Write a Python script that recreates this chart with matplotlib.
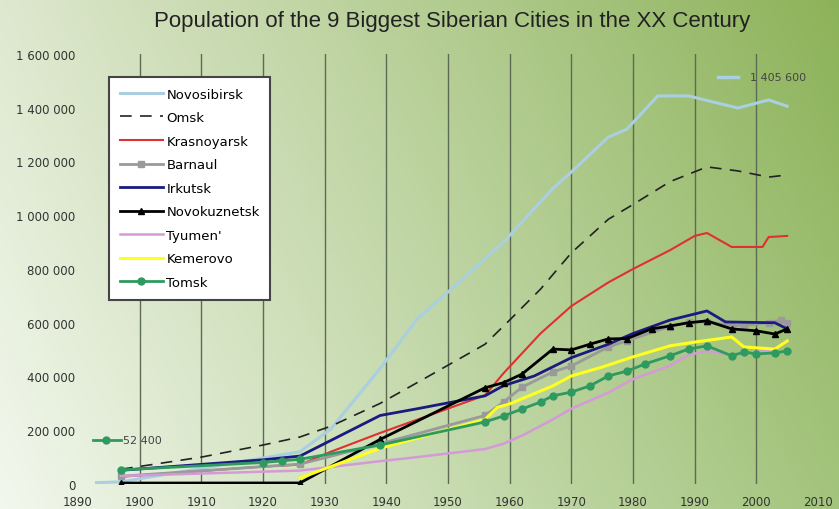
import matplotlib
matplotlib.use('Agg')
import matplotlib.pyplot as plt
import numpy as np
from matplotlib.ticker import FuncFormatter

plt.rcParams['font.family'] = ['Liberation Sans', 'DejaVu Sans']

# data
novosibirsk_years = [1893, 1897, 1926, 1931, 1939, 1945, 1950, 1959, 1967, 1970, 1976, 1979, 1984, 1989, 1997, 2002, 2005]
novosibirsk = [5000, 8000, 120000, 205000, 430000, 614000, 714000, 900000, 1100000, 1161000, 1291000, 1320000,
               1444000, 1444000, 1399000, 1429000, 1405600]

omsk_years = [1897, 1910, 1920, 1926, 1931, 1939, 1946, 1956, 1960, 1965, 1970, 1976, 1980, 1986, 1992, 1997, 2002, 2005]
omsk = [55000, 100000, 145000, 175000, 215000, 300000, 390000, 520000, 610000, 725000, 860000, 985000,
        1040000, 1125000, 1180000, 1165000, 1142000, 1150000]

krasnoyarsk_years = [1897, 1920, 1926, 1931, 1939, 1956, 1959, 1965, 1970, 1976, 1980, 1986, 1990, 1992, 1996, 2001, 2002, 2005]
krasnoyarsk = [27000, 65000, 72000, 120000, 190000, 330000, 412000, 560000, 662000, 750000, 800000, 870000,
               923000, 934000, 882000, 882000, 919000, 923000]

barnaul_years = [1897, 1926, 1939, 1956, 1959, 1962, 1967, 1970, 1976, 1979, 1986, 1989, 1992, 1996, 1998, 2002, 2004, 2005]
barnaul = [29000, 74000, 150000, 255000, 305000, 360000, 417000, 439000, 510000, 533000, 586000, 602000,
           603000, 590000, 590000, 600000, 610000, 600000]

irkutsk_years = [1897, 1920, 1926, 1939, 1945, 1956, 1959, 1964, 1970, 1976, 1980, 1986, 1992, 1995, 2003, 2005]
irkutsk = [51000, 90000, 104000, 255000, 280000, 328000, 366000, 402000, 470000, 520000, 560000, 610000,
           644000, 603000, 600000, 577000]

novokuznetsk_years = [1897, 1926, 1939, 1956, 1959, 1962, 1967, 1970, 1973, 1976, 1979, 1983, 1986, 1989, 1992, 1996, 2000, 2003, 2005]
novokuznetsk = [3500, 3900, 166000, 358000, 377000, 409000, 502000, 499000, 520000, 540000, 541000, 577000,
                588000, 600000, 607000, 577000, 570000, 558000, 577000]

tyumen_years = [1897, 1926, 1939, 1945, 1956, 1959, 1962, 1967, 1970, 1976, 1980, 1986, 1989, 1992, 1996, 1999, 2002, 2005]
tyumen = [30000, 50000, 85000, 100000, 130000, 150000, 180000, 240000, 280000, 340000, 390000, 440000,
          480000, 495000, 480000, 490000, 495000, 530000]

kemerovo_years = [1926, 1939, 1956, 1958, 1960, 1967, 1970, 1975, 1980, 1986, 1990, 1996, 1998, 2003, 2005]
kemerovo = [22000, 133000, 240000, 285000, 298000, 365000, 402000, 435000, 473000, 514000, 528000, 547000,
            510000, 502000, 532000]

tomsk_years = [1897, 1920, 1923, 1926, 1939, 1956, 1959, 1962, 1965, 1967, 1970, 1973, 1976, 1979, 1982, 1986,
               1989, 1992, 1996, 1998, 2000, 2003, 2005]
tomsk = [52400, 80000, 86000, 92000, 145000, 231000, 253000, 279000, 305000, 328000, 342000, 365000, 402000,
         420000, 447000, 477000, 502000, 514000, 477000, 491000, 484000, 488000, 495000]

fig = plt.figure(figsize=(8.39, 5.10), dpi=100)

# background gradient: white-ish bottom-left to green top-right
bg = fig.add_axes([0, 0, 1, 1], zorder=-10)
tl = np.array([0.87, 0.91, 0.81])
tr = np.array([0.55, 0.70, 0.35])
bl = np.array([0.95, 0.97, 0.93])
br = np.array([0.64, 0.77, 0.49])
u = np.linspace(0, 1, 200)[None, :, None]
v = np.linspace(0, 1, 120)[:, None, None]
img = (1 - v) * ((1 - u) * tl + u * tr) + v * ((1 - u) * bl + u * br)
bg.imshow(np.clip(img, 0, 1), aspect='auto', extent=[0, 1, 0, 1])
bg.axis('off')

ax = fig.add_axes([78 / 839, 1 - 485 / 510, 740 / 839, 430 / 510])
ax.patch.set_alpha(0)

ax.plot(novosibirsk_years, novosibirsk, color='#a9cfe0', lw=2.2, label='Novosibirsk')
ax.plot(omsk_years, omsk, color='#222222', lw=1.2, dashes=(7, 5), label='Omsk')
ax.plot(krasnoyarsk_years, krasnoyarsk, color='#e03030', lw=1.5, label='Krasnoyarsk')
ax.plot(barnaul_years, barnaul, color='#9a9a9a', lw=2, marker='s', ms=4, label='Barnaul')
ax.plot(irkutsk_years, irkutsk, color='#1a1a80', lw=2, label='Irkutsk')
ax.plot(novokuznetsk_years, novokuznetsk, color='#000000', lw=2, marker='^', ms=4, label='Novokuznetsk')
ax.plot(tyumen_years, tyumen, color='#d49ad8', lw=1.8, label="Tyumen'")
ax.plot(kemerovo_years, kemerovo, color='#ffff20', lw=2.2, label='Kemerovo')
ax.plot(tomsk_years, tomsk, color='#2e9a60', lw=2, marker='o', ms=5, label='Tomsk')

ax.set_xlim(1890, 2010)
ax.set_ylim(0, 1600000)
ax.set_xticks(range(1890, 2011, 10))
ax.set_yticks(range(0, 1600001, 200000))
ax.yaxis.set_major_formatter(FuncFormatter(lambda v, p: f'{int(v):,}'.replace(',', ' ')))
ax.tick_params(length=0, labelsize=8.5, colors='#333333')
ax.tick_params(axis='x', pad=8)
ax.tick_params(axis='y', pad=2)
for lbl in ax.get_xticklabels() + ax.get_yticklabels():
    lbl.set_family('DejaVu Sans')
for s in ax.spines.values():
    s.set_visible(False)
for yr in range(1900, 2001, 10):
    ax.axvline(yr, color='#5d6b55', lw=1, zorder=0)

leg = ax.legend(loc='upper left', bbox_to_anchor=(31 / 740, 1 - 23 / 430),
                prop={'family': 'DejaVu Sans', 'size': 9.5},
                frameon=True, fancybox=False, handlelength=3.3, handletextpad=0.25,
                labelspacing=0.8, borderpad=0.8, borderaxespad=0)
leg.get_frame().set_edgecolor('#444444')
leg.get_frame().set_linewidth(1.5)
leg.get_frame().set_facecolor('white')
leg.get_frame().set_alpha(1)

# value callouts
ax.plot([640 / 740, 660 / 740], [407 / 430, 407 / 430], transform=ax.transAxes,
        color='#a9cfe0', lw=2.5, clip_on=False)
ax.text(672 / 740, 407 / 430, '1 405 600', transform=ax.transAxes, fontsize=8,
        va='center', color='#444444', family='DejaVu Sans')
ax.plot([15 / 740, 43 / 740], [44 / 430, 44 / 430], transform=ax.transAxes,
        color='#2e9a60', lw=2, clip_on=False)
ax.plot([28 / 740], [44 / 430], transform=ax.transAxes, color='#2e9a60', marker='o', ms=5, clip_on=False)
ax.text(45 / 740, 44 / 430, '52 400', transform=ax.transAxes, fontsize=8,
        va='center', color='#444444', family='DejaVu Sans')

fig.text(452 / 839, 1 - 22 / 510, 'Population of the 9 Biggest Siberian Cities in the XX Century',
         ha='center', va='center', fontsize=16, color='#222222')

fig.savefig('out.png', dpi=100)
